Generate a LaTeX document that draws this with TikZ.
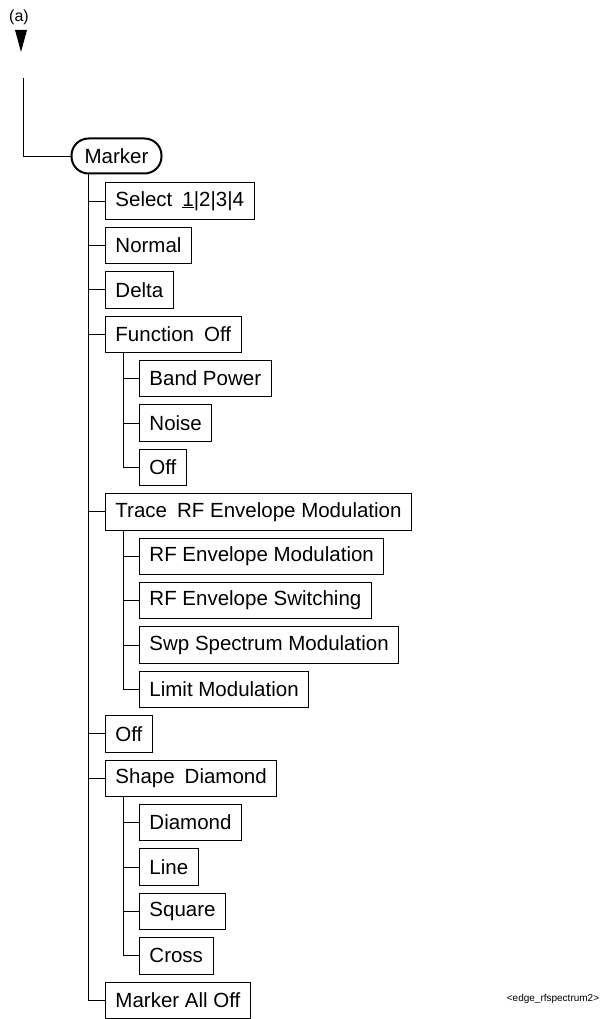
\documentclass[tikz,border=0pt]{standalone}
\usepackage{fontspec}
\setmainfont{Liberation Sans}
\begin{document}
\begin{tikzpicture}[x=1pt,y=-1pt,
  mbox/.style={draw, line width=0.9pt, font=\fontsize{20.5}{24}\selectfont,
    minimum height=36.5pt, inner xsep=10pt, inner ysep=0pt, anchor=west},
  conn/.style={line width=0.9pt}]
\useasboundingbox (0,0) rectangle (603,1019);
% off-page connector
\node[font=\fontsize{16}{18}\selectfont] (lbla) at (19,17) {(a)};
\fill (15,30) -- (27,30) -- (21,52) -- cycle;
\coordinate (top) at (23,78);
% root
\node[draw, line width=2pt, rounded corners=17pt, minimum width=90pt,
  minimum height=35pt, inner sep=0pt, font=\fontsize{20.5}{24}\selectfont]
  (marker) at (116.5,156) {Marker};
\draw[conn] (top) |- (marker.west);
% column x positions
\coordinate (mx) at (88,0);
\coordinate (sx) at (123,0);
\node[mbox] (sel) at (105,201) {Select\hspace{10pt}\underline{1}|2|3|4};
\node[mbox] (nor) at (105,245.4) {Normal};
\node[mbox] (del) at (105,289.8) {Delta};
\node[mbox] (fun) at (105,334.2) {Function\hspace{10pt}Off};
\node[mbox] (bp) at (139,378.6) {Band Power};
\node[mbox] (noi) at (139,423) {Noise};
\node[mbox] (foff) at (139,467.4) {Off};
\node[mbox] (tra) at (105,511.8) {Trace\hspace{10pt}RF Envelope Modulation};
\node[mbox] (rfm) at (139,556.2) {RF Envelope Modulation};
\node[mbox] (rfs) at (139,600.6) {RF Envelope Switching};
\node[mbox] (swp) at (139,645) {Swp Spectrum Modulation};
\node[mbox] (lim) at (139,689.4) {Limit Modulation};
\node[mbox] (off) at (105,733.8) {Off};
\node[mbox] (sha) at (105,778.2) {Shape\hspace{10pt}Diamond};
\node[mbox] (dia) at (139,822.6) {Diamond};
\node[mbox] (lin) at (139,867) {Line};
\node[mbox] (squ) at (139,911.4) {Square};
\node[mbox] (cro) at (139,955.8) {Cross};
\node[mbox] (mao) at (105,1000.2) {Marker All Off};
% connectors
\foreach \c in {sel,nor,del,fun,tra,off,sha,mao}
  \draw[conn] (mx |- marker.south) |- (\c.west);
\foreach \c in {bp,noi,foff}
  \draw[conn] (sx |- fun.south) |- (\c.west);
\foreach \c in {rfm,rfs,swp,lim}
  \draw[conn] (sx |- tra.south) |- (\c.west);
\foreach \c in {dia,lin,squ,cro}
  \draw[conn] (sx |- sha.south) |- (\c.west);
\node[font=\fontsize{10}{12}\selectfont] (tag) at (553,999) {<edge\_rfspectrum2>};
\end{tikzpicture}
\end{document}
